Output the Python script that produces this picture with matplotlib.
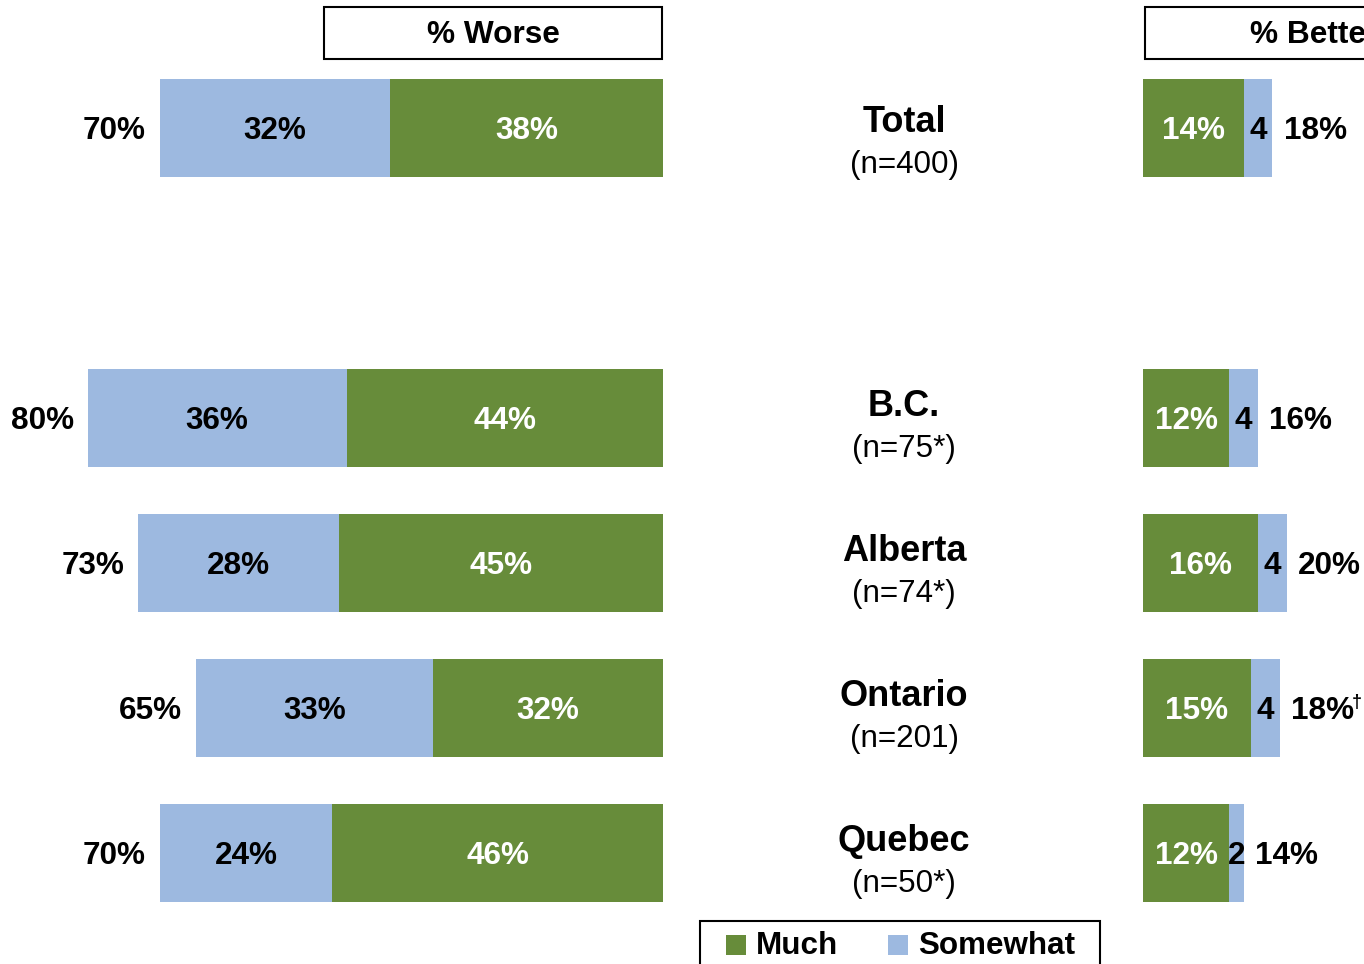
import matplotlib.pyplot as plt
import matplotlib.transforms as mtransforms
from matplotlib.patches import Rectangle

plt.rcParams['font.family'] = ['Liberation Sans', 'DejaVu Sans']

regions = ["Total", "B.C.", "Alberta", "Ontario", "Quebec"]
sizes = ["(n=400)", "(n=75*)", "(n=74*)", "(n=201)", "(n=50*)"]
rows = [0, 2, 3, 4, 5]
worse_much = [38, 44, 45, 32, 46]
worse_somewhat = [32, 36, 28, 33, 24]
worse_total = [70, 80, 73, 65, 70]
better_much = [14, 12, 16, 15, 12]
better_somewhat = [4, 4, 4, 4, 2]
better_total = [18, 16, 20, 18, 14]
better_notes = ["", "", "", "\u2020", ""]
legend_labels = ["Much", "Somewhat"]

green = "#678C3A"
blue = "#9DB9E0"

W, H = 1364, 964
fig = plt.figure(figsize=(W / 100, H / 100), dpi=100)

px_pct = 7.19      # pixels per percentage point
row_px = 145       # pixels per row unit
top_px = 128       # centre of first row
bar_h = 0.67
ylim = ((H - top_px) / row_px, -top_px / row_px)

ax_l = fig.add_axes([0, 0, 663 / W, 1])
ax_l.set_xlim(-663 / px_pct, 0)
ax_l.set_ylim(*ylim)
ax_r = fig.add_axes([1143 / W, 0, (W - 1143) / W, 1])
ax_r.set_xlim(0, (W - 1143) / px_pct)
ax_r.set_ylim(*ylim)
for ax in (ax_l, ax_r):
    ax.axis("off")

fs = 22.7
dy = -2  # small nudge so digits sit centred like the original


def label(ax, text, xy, dx=0, ha="center", color="black"):
    ax.annotate(text, xy, xytext=(dx, dy), textcoords="offset points",
                color=color, fontsize=fs, fontweight="bold", ha=ha, va="center")


# worse (left side)
ax_l.barh(rows, [-v for v in worse_much], bar_h, color=green)
ax_l.barh(rows, [-v for v in worse_somewhat], bar_h, left=[-v for v in worse_much], color=blue)
for y, m, s, t in zip(rows, worse_much, worse_somewhat, worse_total):
    label(ax_l, f"{m}%", (-m / 2, y), color="white")
    label(ax_l, f"{s}%", (-m - s / 2, y))
    label(ax_l, f"{t}%", (-t, y), dx=-10, ha="right")

# better (right side)
ax_r.barh(rows, better_much, bar_h, color=green)
ax_r.barh(rows, better_somewhat, bar_h, left=better_much, color=blue)
for y, m, s, t, note in zip(rows, better_much, better_somewhat, better_total, better_notes):
    label(ax_r, f"{m}%", (m / 2, y), color="white")
    label(ax_r, f"{s}", (m + s / 2, y))
    label(ax_r, f"{t}%", (m + s, y), dx=8, ha="left")
    if note:
        ax_r.annotate(note, (m + s, y), xytext=(52, 10), textcoords="offset points",
                      fontsize=13, fontweight="bold", ha="left", va="top")

# centre labels
trans = mtransforms.blended_transform_factory(fig.transFigure, ax_l.transData)
for y, name, n in zip(rows, regions, sizes):
    shift = -4 if y == rows[0] else 0
    ax_l.annotate(name, (904 / W, y), xycoords=trans, xytext=(0, 8 + shift),
                  textcoords="offset points", fontsize=26, fontweight="bold",
                  ha="center", va="center", annotation_clip=False)
    ax_l.annotate(n, (904 / W, y), xycoords=trans, xytext=(0, -22.5 + shift),
                  textcoords="offset points", fontsize=22.6,
                  ha="center", va="center", annotation_clip=False)

# header boxes and legend, laid out in pixel space
ov = fig.add_axes([0, 0, 1, 1], zorder=-1)
ov.set_xlim(0, W)
ov.set_ylim(H, 0)
ov.axis("off")
for x0, text in [(324, "% Worse"), (1145, "% Better")]:
    ov.add_patch(Rectangle((x0, 7), 338, 52, facecolor="white", edgecolor="black", lw=1.5))
    ov.text(x0 + 169, 35, text, fontsize=22.8, fontweight="bold", ha="center", va="center")

ov.add_patch(Rectangle((700, 921), 400, 60, facecolor="white", edgecolor="black",
                       lw=1.5, clip_on=False))
for x0, col, text in zip([726, 888], [green, blue], legend_labels):
    ov.add_patch(Rectangle((x0, 935), 20, 20, facecolor=col, edgecolor="none"))
    ov.text(x0 + 30, 946, text, fontsize=22.6, fontweight="bold", ha="left", va="center")

fig.savefig("out.png", dpi=100)
